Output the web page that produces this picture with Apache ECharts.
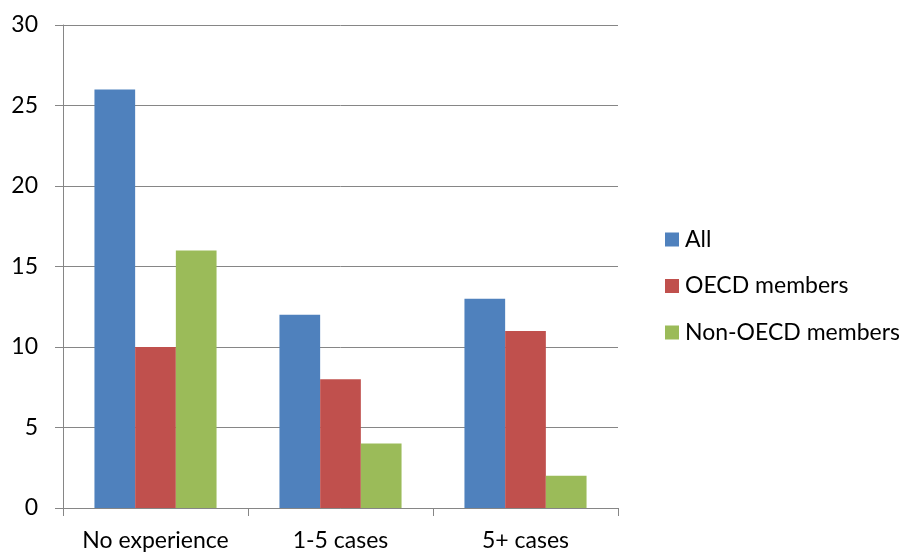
<!DOCTYPE html>
<html>
<head>
<meta charset="utf-8">
<script src="https://cdn.jsdelivr.net/npm/echarts@6/dist/echarts.min.js"></script>
<style>html,body{margin:0;padding:0;background:#fff}#c{width:906px;height:553px}</style>
</head>
<body>
<div id="c"></div>
<script>
const categories = ["No experience", "1-5 cases", "5+ cases"];
const seriesNames = ["All", "OECD members", "Non-OECD members"];
const allValues = [26, 12, 13];
const oecdValues = [10, 8, 11];
const nonOecdValues = [16, 4, 2];
const yTicks = [0, 5, 10, 15, 20, 25, 30];
const colors = ["#4F81BD", "#C0504D", "#9BBB59"];

const font = "Lato, 'Open Sans', sans-serif";
const chart = echarts.init(document.getElementById('c'));
const dataSets = [allValues, oecdValues, nonOecdValues];
chart.setOption({
  animation: false,
  color: colors,
  grid: { left: 63, right: 288, top: 25, bottom: 45, containLabel: false },
  legend: {
    orient: 'vertical',
    left: 660,
    top: 223,
    itemWidth: 14,
    itemHeight: 14,
    itemGap: 23.5,
    icon: 'rect',
    data: seriesNames,
    textStyle: { fontFamily: font, fontSize: 23, color: '#000', padding: [0, 0, 0, 1] }
  },
  xAxis: {
    type: 'category',
    data: categories,
    axisLine: { lineStyle: { color: '#868686', width: 1 } },
    axisTick: { show: true, length: 8, lineStyle: { color: '#868686' } },
    axisLabel: { color: '#000', fontFamily: font, fontSize: 23, margin: 21, interval: 0, hideOverlap: false },
    splitLine: { show: false }
  },
  yAxis: {
    type: 'value',
    min: yTicks[0],
    max: yTicks[yTicks.length - 1],
    interval: 5,
    axisLine: { show: true, lineStyle: { color: '#868686', width: 1 } },
    axisTick: { show: true, length: 8, lineStyle: { color: '#868686' } },
    axisLabel: { color: '#000', fontFamily: font, fontSize: 23, margin: 25 },
    splitLine: { show: true, lineStyle: { color: '#868686', width: 1 } }
  },
  series: seriesNames.map((n, i) => ({
    name: n,
    type: 'bar',
    data: dataSets[i],
    barGap: '0%',
    barCategoryGap: '34%',
    itemStyle: { color: colors[i] }
  }))
});
</script>
</body>
</html>
